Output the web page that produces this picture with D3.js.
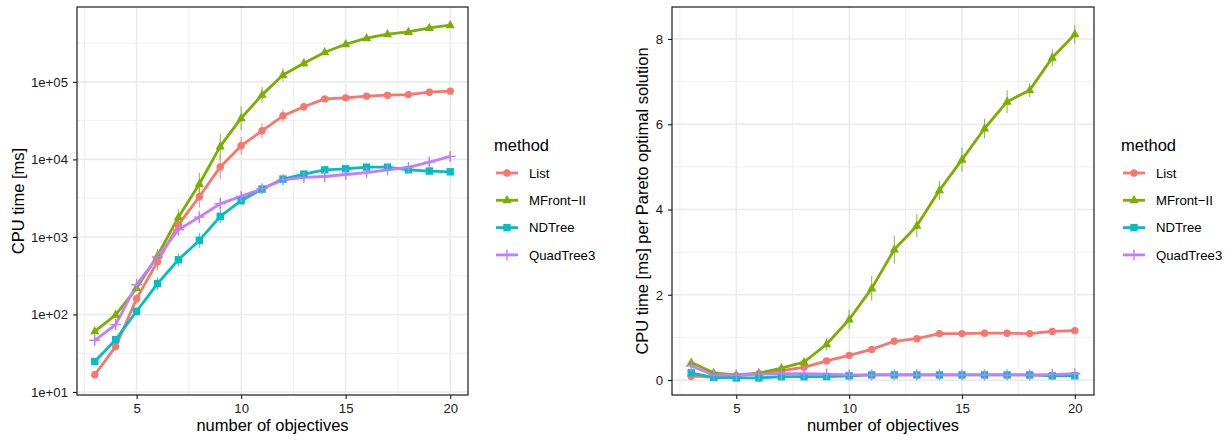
<!DOCTYPE html>
<html>
<head>
<meta charset="utf-8">
<script src="https://cdn.jsdelivr.net/npm/d3@7"></script>
<style>
body { margin: 0; background: #fff; }
svg text { font-family: "Liberation Sans", Arial, Helvetica, sans-serif; }
</style>
</head>
<body>
<svg id="chart" width="1232" height="441"></svg>
<script>
// number of objectives (x)
var objectives = [3,4,5,6,7,8,9,10,11,12,13,14,15,16,17,18,19,20];
var methods = ["List", "MFront\u2212II", "NDTree", "QuadTree3"];
var colors = ["#F8766D", "#7CAE00", "#00BFC4", "#C77CFF"];
var shapes = ["circle", "triangle", "square", "plus"];

// left panel: CPU time [ms]
var cpuList   = [16.7,38.5,160,480,1430,3300,8000,15000,23400,36500,47700,60300,62200,65500,67300,68500,73600,75900];
var cpuMFront = [60.5,99,219,573,1800,4810,14700,34000,68000,123000,174000,241000,306000,366000,412000,441000,496000,538000];
var cpuNDTree = [24.7,47.3,110,250,508,902,1840,2930,4140,5570,6460,7340,7570,7950,7950,7340,7070,6920];
var cpuQuad   = [46.4,74,242,551,1240,1800,2680,3330,4180,5450,5850,6020,6390,6770,7340,7870,9220,10900];
// relative spread of the error bars (left panel)
var cpuErrList   = [0.06,0.1,0.15,0.3,0.3,0.38,0.43,0.3,0.25,0.21,0.13,0.08,0.06,0.06,0.06,0.06,0.06,0.06];
var cpuErrMFront = [0.06,0.06,0.1,0.2,0.25,0.4,0.45,0.43,0.27,0.21,0.13,0.08,0.06,0.05,0.05,0.05,0.05,0.05];
var cpuErrNDTree = [0.06,0.08,0.1,0.2,0.21,0.25,0.21,0.1,0.08,0.06,0.05,0.05,0.05,0.05,0.05,0.05,0.05,0.05];
var cpuErrQuad   = [0.1,0.12,0.2,0.27,0.2,0.2,0.2,0.15,0.12,0.12,0.12,0.12,0.12,0.12,0.12,0.12,0.15,0.15];

// right panel: CPU time [ms] per Pareto optimal solution
var perList   = [0.09,0.08,0.1,0.15,0.22,0.30,0.45,0.58,0.72,0.91,0.97,1.09,1.09,1.10,1.10,1.09,1.14,1.16];
var perMFront = [0.41,0.17,0.12,0.16,0.28,0.42,0.84,1.42,2.15,3.06,3.62,4.45,5.17,5.90,6.53,6.80,7.56,8.11];
var perNDTree = [0.17,0.06,0.05,0.05,0.08,0.08,0.08,0.10,0.12,0.12,0.12,0.12,0.12,0.12,0.12,0.12,0.10,0.10];
var perQuad   = [0.33,0.12,0.12,0.14,0.15,0.15,0.14,0.12,0.12,0.12,0.12,0.12,0.12,0.12,0.12,0.12,0.13,0.15];
// error bar half-widths (right panel)
var perErrList   = [0.03,0.03,0.03,0.03,0.03,0.03,0.03,0.03,0.03,0.03,0.03,0.03,0.03,0.03,0.03,0.03,0.03,0.03];
var perErrMFront = [0.05,0.03,0.03,0.03,0.05,0.06,0.14,0.23,0.29,0.33,0.27,0.23,0.28,0.23,0.27,0.16,0.2,0.22];
var perErrNDTree = [0.02,0.02,0.02,0.02,0.02,0.02,0.02,0.02,0.02,0.02,0.02,0.02,0.02,0.02,0.02,0.02,0.02,0.02];
var perErrQuad   = [0.04,0.04,0.04,0.04,0.04,0.04,0.04,0.04,0.04,0.04,0.04,0.04,0.04,0.04,0.04,0.04,0.04,0.04];

var logTicks = [1e1, 1e2, 1e3, 1e4, 1e5];
var linTicks = [0, 2, 4, 6, 8];
var xTicks = [5, 10, 15, 20];

var svg = d3.select("#chart");

function drawShape(g, shape, cx, cy, color) {
  if (shape == "circle") {
    g.append("circle").attr("cx", cx).attr("cy", cy).attr("r", 3.7).attr("fill", color);
  } else if (shape == "triangle") {
    g.append("path").attr("d", "M" + cx + "," + (cy - 5.2) + "L" + (cx + 4.6) + "," + (cy + 3) + "L" + (cx - 4.6) + "," + (cy + 3) + "Z")
      .attr("fill", color);
  } else if (shape == "square") {
    g.append("rect").attr("x", cx - 3.7).attr("y", cy - 3.7).attr("width", 7.4).attr("height", 7.4).attr("fill", color);
  } else {
    g.append("path").attr("d", "M" + (cx - 5.5) + "," + cy + "H" + (cx + 5.5) + "M" + cx + "," + (cy - 5.5) + "V" + (cy + 5.5))
      .attr("stroke", color).attr("stroke-width", 1.4);
  }
}

function panel(opt) {
  var g = svg.append("g");
  var top = 7, bottom = 395;
  var x = d3.scaleLinear().domain([2.15, 20.85]).range([opt.x0, opt.x1]);
  var y = opt.y.range([bottom, top]);

  g.append("rect").attr("x", opt.x0).attr("y", top).attr("width", opt.x1 - opt.x0).attr("height", bottom - top).attr("fill", "#fff");

  // grid
  opt.yMinor.forEach(function(v) {
    g.append("line").attr("x1", opt.x0).attr("x2", opt.x1).attr("y1", y(v)).attr("y2", y(v))
      .attr("stroke", "#EBEBEB").attr("stroke-width", 0.8);
  });
  [2.5, 7.5, 12.5, 17.5].forEach(function(v) {
    g.append("line").attr("x1", x(v)).attr("x2", x(v)).attr("y1", top).attr("y2", bottom)
      .attr("stroke", "#EBEBEB").attr("stroke-width", 0.8);
  });
  opt.yTicks.forEach(function(v) {
    g.append("line").attr("x1", opt.x0).attr("x2", opt.x1).attr("y1", y(v)).attr("y2", y(v))
      .attr("stroke", "#EBEBEB").attr("stroke-width", 1.6);
  });
  xTicks.forEach(function(v) {
    g.append("line").attr("x1", x(v)).attr("x2", x(v)).attr("y1", top).attr("y2", bottom)
      .attr("stroke", "#EBEBEB").attr("stroke-width", 1.6);
  });

  var line = d3.line().x(function(d) { return x(d[0]); }).y(function(d) { return y(d[1]); });

  opt.series.forEach(function(s, i) {
    var pts = objectives.map(function(o, j) { return [o, s[j]]; });
    g.append("path").attr("d", line(pts)).attr("fill", "none").attr("stroke", colors[i])
      .attr("stroke-width", 2.8).attr("stroke-linejoin", "round");
  });
  opt.series.forEach(function(s, i) {
    objectives.forEach(function(o, j) {
      var lo = opt.lo(s[j], opt.errs[i][j]), hi = opt.hi(s[j], opt.errs[i][j]);
      g.append("line").attr("x1", x(o)).attr("x2", x(o)).attr("y1", y(lo)).attr("y2", y(hi))
        .attr("stroke", colors[i]).attr("stroke-width", 1).attr("opacity", 0.85);
    });
  });
  opt.series.forEach(function(s, i) {
    objectives.forEach(function(o, j) {
      drawShape(g, shapes[i], x(o), y(s[j]), colors[i]);
    });
  });

  g.append("rect").attr("x", opt.x0).attr("y", top).attr("width", opt.x1 - opt.x0).attr("height", bottom - top)
    .attr("fill", "none").attr("stroke", "#1A1A1A").attr("stroke-width", 1.2);

  var ya = g.append("g").attr("transform", "translate(" + opt.x0 + ",0)")
    .call(d3.axisLeft(y).tickValues(opt.yTicks).tickFormat(opt.fmt).tickSize(4).tickPadding(5));
  var xa = g.append("g").attr("transform", "translate(0," + bottom + ")")
    .call(d3.axisBottom(x).tickValues(xTicks).tickSize(4).tickPadding(5));
  [ya, xa].forEach(function(a) {
    a.select(".domain").remove();
    a.selectAll("line").attr("stroke", "#1A1A1A").attr("stroke-width", 1.1);
    a.selectAll("text").attr("font-size", "13.2px").attr("fill", "#1A1A1A")
      .style("font-family", "'Liberation Sans', Arial, sans-serif");
  });

  g.append("text").attr("x", (opt.x0 + opt.x1) / 2).attr("y", 431).attr("text-anchor", "middle")
    .attr("font-size", "16.5px").attr("fill", "#000").text("number of objectives");
  g.append("text").attr("transform", "translate(" + opt.titleX + "," + ((top + bottom) / 2) + ") rotate(-90)")
    .attr("text-anchor", "middle").attr("font-size", "16.5px").attr("fill", "#000").text(opt.yTitle);

  // legend
  var lx = opt.legendX;
  g.append("text").attr("x", lx).attr("y", 151).attr("font-size", "16.5px").attr("fill", "#000").text("method");
  methods.forEach(function(m, i) {
    var cy = 173 + i * 27.3;
    g.append("line").attr("x1", lx + 2).attr("x2", lx + 24).attr("y1", cy).attr("y2", cy)
      .attr("stroke", colors[i]).attr("stroke-width", 2.8);
    drawShape(g, shapes[i], lx + 13, cy, colors[i]);
    g.append("text").attr("x", lx + 35).attr("y", cy + 4.7).attr("font-size", "13.2px").attr("fill", "#000").text(m);
  });
}

panel({
  x0: 77, x1: 468,
  y: d3.scaleLog().domain([Math.pow(10, 0.961), Math.pow(10, 5.966)]),
  yTicks: logTicks,
  yMinor: [1.5, 2.5, 3.5, 4.5, 5.5].map(function(k) { return Math.pow(10, k); }),
  fmt: function(d) { return "1e+0" + Math.round(Math.log10(d)); },
  series: [cpuList, cpuMFront, cpuNDTree, cpuQuad],
  errs: [cpuErrList, cpuErrMFront, cpuErrNDTree, cpuErrQuad],
  lo: function(v, e) { return v / (1 + e); },
  hi: function(v, e) { return v * (1 + e); },
  yTitle: "CPU time [ms]",
  titleX: 24,
  legendX: 494
});

panel({
  x0: 672, x1: 1094,
  y: d3.scaleLinear().domain([-0.35, 8.75]),
  yTicks: linTicks,
  yMinor: [1, 3, 5, 7],
  fmt: function(d) { return d; },
  series: [perList, perMFront, perNDTree, perQuad],
  errs: [perErrList, perErrMFront, perErrNDTree, perErrQuad],
  lo: function(v, e) { return v - e; },
  hi: function(v, e) { return v + e; },
  yTitle: "CPU time [ms] per Pareto optimal solution",
  titleX: 648,
  legendX: 1121
});
</script>
</body>
</html>
